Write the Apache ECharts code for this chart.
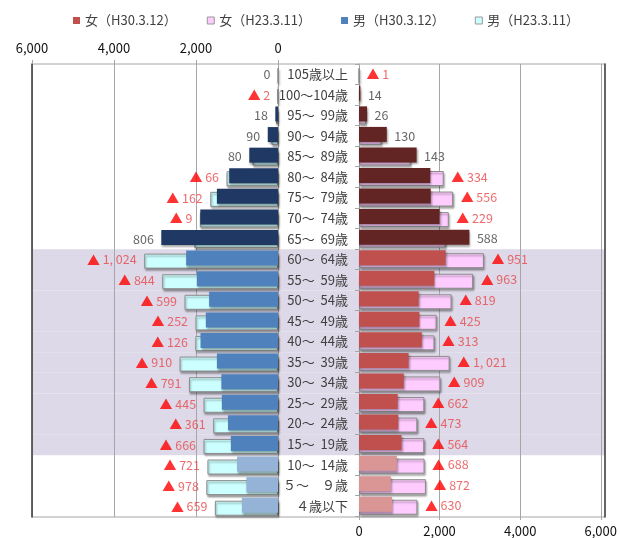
<!DOCTYPE html>
<html><head><meta charset="utf-8">
<script src="https://cdn.jsdelivr.net/npm/echarts@6/dist/echarts.min.js"></script>
<style>html,body{margin:0;padding:0;background:#fff}#c{width:620px;height:538px}</style>
</head><body><div id="c"></div>
<script>
const ages = ['105歳以上','100～104歳','95～  99歳','90～  94歳','85～  89歳','80～  84歳','75～  79歳','70～  74歳','65～  69歳','60～  64歳','55～  59歳','50～  54歳','45～  49歳','40～  44歳','35～  39歳','30～  34歳','25～  29歳','20～  24歳','15～  19歳','10～  14歳','５～　９歳','４歳以下'];
const maleH30 = [0, 3, 65, 250, 700, 1190, 1490, 1895, 2846, 2240, 1980, 1680, 1760, 1890, 1490, 1380, 1370, 1220, 1150, 1000, 770, 880];
const maleH23 = [0, 5, 47, 160, 620, 1256, 1652, 1904, 2040, 3264, 2824, 2279, 2012, 2016, 2400, 2171, 1815, 1581, 1816, 1721, 1748, 1539];
const femaleH30 = [0, 35, 200, 690, 1430, 1770, 1780, 2000, 2740, 2150, 1870, 1480, 1500, 1560, 1230, 1110, 960, 975, 1055, 940, 790, 820];
const femaleH23 = [1, 21, 174, 560, 1287, 2104, 2336, 2229, 2152, 3101, 2833, 2299, 1925, 1873, 2251, 2019, 1622, 1448, 1619, 1628, 1662, 1450];
const maleDiff = [0, -2, 18, 90, 80, -66, -162, -9, 806, -1024, -844, -599, -252, -126, -910, -791, -445, -361, -666, -721, -978, -659];
const femaleDiff = [-1, 14, 26, 130, 143, -334, -556, -229, 588, -951, -963, -819, -425, -313, -1021, -909, -662, -473, -564, -688, -872, -630];
// 0: 65歳以上, 1: 15～64歳, 2: 0～14歳
const ageGroup = [0,0,0,0,0,0,0,0,0,1,1,1,1,1,1,1,1,1,1,2,2,2];
const seriesNames = ['女（H30.3.12）','女（H23.3.11）','男（H30.3.12）','男（H23.3.11）'];
const maleColors = ['#1F3864','#4F81BD','#95B3D7'];
const femaleColors = ['#632523','#C0504D','#D99694'];

const FONT = "'Noto Sans CJK JP', 'Noto Sans', sans-serif";
const shaded = ageGroup.map(g => g === 1 ? 1 : 0);
const fmtNum = v => v.toLocaleString('en-US').replace(',', ', ');
const labelFmt = diffs => p => {
  const d = diffs[p.dataIndex];
  return d < 0 ? '{t|▲} {n|' + fmtNum(-d) + '}' : '{p|' + fmtNum(d) + '}';
};
const richLbl = {
  t: {color: '#ff0000', fontSize: 13, fontFamily: FONT},
  n: {color: '#e8474a', fontSize: 12.5, fontFamily: FONT},
  p: {color: '#404040', fontSize: 12.5, fontFamily: FONT}
};
const shadow = {shadowColor: 'rgba(0,0,0,0.35)', shadowBlur: 2, shadowOffsetX: 1, shadowOffsetY: 2};

const chart = echarts.init(document.getElementById('c'));
chart.setOption({
  animation: false,
  backgroundColor: '#fff',
  textStyle: {fontFamily: FONT},
  legend: {
    data: seriesNames.map((n, i) => ({name: n, itemStyle: i % 2 ? {borderColor: '#999', borderWidth: 1} : {}})),
    top: 9, left: 68, itemWidth: 7, itemHeight: 7, itemGap: 30, icon: 'rect',
    textStyle: {color: '#404040', fontSize: 13, fontFamily: FONT}
  },
  grid: [
    {left: 32, width: 246, top: 64, bottom: 21},
    {left: 359, right: 15, top: 64, bottom: 21},
    {left: 32, right: 15, top: 64, bottom: 21, show: true, borderColor: '#a6a6a6', borderWidth: 1}
  ],
  xAxis: [
    {gridIndex: 0, type: 'value', inverse: true, min: 0, max: 6000, interval: 2000, position: 'top',
     axisLine: {show: false}, axisTick: {show: true, length: 4, lineStyle: {color: '#a6a6a6'}},
     axisLabel: {color: '#111', fontSize: 13, margin: 9, formatter: v => v.toLocaleString('en-US')},
     splitLine: {lineStyle: {color: '#a6a6a6'}}},
    {gridIndex: 1, type: 'value', min: 0, max: 6000, interval: 2000, position: 'bottom',
     axisLine: {show: false}, axisTick: {show: true, length: 4, lineStyle: {color: '#a6a6a6'}},
     axisLabel: {color: '#111', fontSize: 13, margin: 9, formatter: v => v.toLocaleString('en-US')},
     splitLine: {lineStyle: {color: '#a6a6a6'}}},
    {gridIndex: 2, type: 'value', min: 0, max: 1, show: false}
  ],
  yAxis: [
    {gridIndex: 0, type: 'category', data: ages, inverse: true, position: 'right',
     axisLine: {lineStyle: {color: '#a6a6a6'}}, axisTick: {show: false}, axisLabel: {show: false}},
    {gridIndex: 1, type: 'category', data: ages, inverse: true, position: 'left',
     axisLine: {lineStyle: {color: '#a6a6a6'}}, axisTick: {show: true, length: 4, lineStyle: {color: '#a6a6a6'}},
     axisLabel: {color: '#404040', fontSize: 13, margin: 11, fontFamily: FONT}},
    {gridIndex: 2, type: 'category', data: ages, inverse: true, position: 'left',
     axisLine: {lineStyle: {color: '#404040', width: 1.5}}, axisTick: {show: false}, axisLabel: {show: false}},
    {gridIndex: 2, type: 'category', data: ages, inverse: true, position: 'right',
     axisLine: {lineStyle: {color: '#404040', width: 1.5}}, axisTick: {show: false}, axisLabel: {show: false}}
  ],
  series: [
    {type: 'bar', xAxisIndex: 2, yAxisIndex: 2, data: shaded, barWidth: '100%', barCategoryGap: '0%',
     silent: true, z: -5, itemStyle: {color: '#DDD9E8'}},
    {name: seriesNames[2], type: 'bar', xAxisIndex: 0, yAxisIndex: 0, barWidth: 15, barGap: '-80%', z: 3,
     itemStyle: Object.assign({color: maleColors[1]}, shadow),
     data: maleH30.map((v, i) => ({value: v, itemStyle: {color: maleColors[ageGroup[i]]}}))},
    {name: seriesNames[3], type: 'bar', xAxisIndex: 0, yAxisIndex: 0, data: maleH23, barWidth: 15, barGap: '-80%', z: 2,
     itemStyle: Object.assign({color: '#CCFFFF', borderColor: '#8c8c8c', borderWidth: 1}, shadow)},
    {name: seriesNames[0], type: 'bar', xAxisIndex: 1, yAxisIndex: 1, barWidth: 15, barGap: '-80%', z: 3,
     itemStyle: Object.assign({color: femaleColors[1]}, shadow),
     data: femaleH30.map((v, i) => ({value: v, itemStyle: {color: femaleColors[ageGroup[i]]}}))},
    {name: seriesNames[1], type: 'bar', xAxisIndex: 1, yAxisIndex: 1, data: femaleH23, barWidth: 15, barGap: '-80%', z: 2,
     itemStyle: Object.assign({color: '#FFCCFF', borderColor: '#8c8c8c', borderWidth: 1}, shadow)},
    {type: 'scatter', xAxisIndex: 0, yAxisIndex: 0, symbolSize: 1, itemStyle: {color: 'rgba(0,0,0,0)'}, silent: true, z: 4,
     data: maleH30.map((v, i) => [Math.max(v, maleH23[i]), i]),
     label: {show: true, position: 'left', distance: 7, formatter: labelFmt(maleDiff), rich: richLbl}},
    {type: 'scatter', xAxisIndex: 1, yAxisIndex: 1, symbolSize: 1, itemStyle: {color: 'rgba(0,0,0,0)'}, silent: true, z: 4,
     data: femaleH30.map((v, i) => [Math.max(v, femaleH23[i]), i]),
     label: {show: true, position: 'right', distance: 7, formatter: labelFmt(femaleDiff), rich: richLbl}}
  ]
});
</script></body></html>
